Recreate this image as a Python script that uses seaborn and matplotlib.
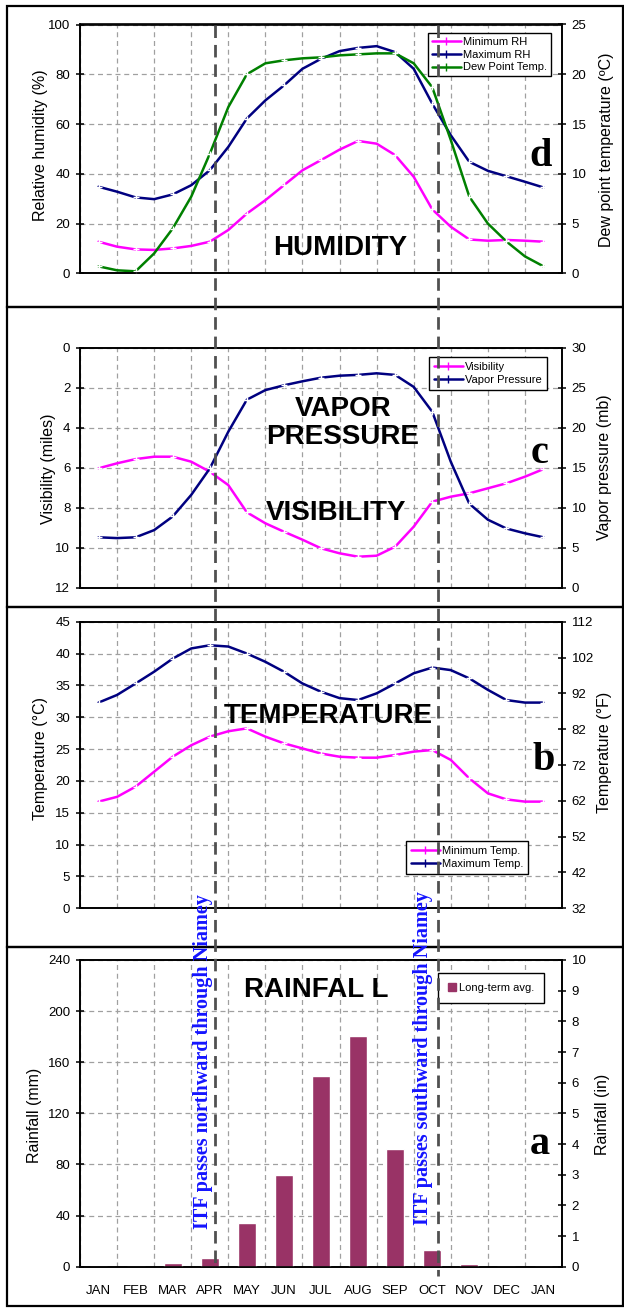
import numpy as np
import pandas as pd
import matplotlib
matplotlib.use("Agg")
import matplotlib.pyplot as plt
import seaborn as sns
from matplotlib.lines import Line2D
from matplotlib.patches import Rectangle, Patch

# ---------------- data ----------------
months = ["JAN", "FEB", "MAR", "APR", "MAY", "JUN", "JUL",
          "AUG", "SEP", "OCT", "NOV", "DEC", "JAN"]
month_pos = list(range(13))
# readings taken at each month and half way between months
read_pos = [0, 0.5, 1, 1.5, 2, 2.5, 3, 3.5, 4, 4.5, 5, 5.5, 6,
            6.5, 7, 7.5, 8, 8.5, 9, 9.5, 10, 10.5, 11, 11.5, 12]

min_rh = [12.7, 10.7, 9.6, 9.4, 10.0, 11.0, 12.7, 17.4, 24.0, 29.4, 35.4, 41.4, 45.5,
          49.7, 53.2, 52.1, 47.5, 38.8, 25.7, 18.7, 13.6, 13.1, 13.4, 13.1, 12.7]
max_rh = [34.8, 32.8, 30.5, 29.8, 31.7, 35.4, 41.4, 50.8, 62.2, 69.5, 75.5, 82.2, 86.2,
          89.3, 90.6, 91.3, 88.9, 82.2, 68.2, 55.5, 44.8, 41.2, 39.0, 36.8, 34.5]
dew_point = [0.7, 0.3, 0.2, 2.0, 4.5, 7.7, 12.0, 16.7, 20.0, 21.1, 21.4, 21.6, 21.7,
             21.9, 22.0, 22.1, 22.1, 21.1, 18.7, 13.4, 7.7, 5.0, 3.2, 1.7, 0.7]

visibility = [6.03, 5.78, 5.57, 5.45, 5.45, 5.70, 6.20, 6.87, 8.23, 8.78, 9.20, 9.60, 10.03,
              10.28, 10.45, 10.40, 9.95, 8.95, 7.70, 7.45, 7.28, 7.03, 6.78, 6.45, 6.07]
vapor_pressure = [6.3, 6.2, 6.3, 7.2, 8.9, 11.6, 14.9, 19.5, 23.5, 24.7, 25.3, 25.8, 26.25,
                  26.5, 26.6, 26.8, 26.6, 25.1, 22.0, 15.75, 10.5, 8.5, 7.4, 6.8, 6.3]

max_temp = [32.3, 33.5, 35.3, 37.15, 39.2, 40.8, 41.3, 41.1, 40.0, 38.7, 37.15, 35.3, 34.0,
            33.0, 32.7, 33.75, 35.3, 36.9, 37.8, 37.4, 36.1, 34.3, 32.7, 32.3, 32.3]
min_temp = [16.75, 17.5, 19.1, 21.45, 23.8, 25.6, 26.95, 27.8, 28.25, 26.95, 25.9, 25.1, 24.3,
            23.8, 23.65, 23.65, 24.07, 24.6, 24.85, 23.3, 20.4, 18.05, 17.1, 16.75, 16.75]

rain_mm = [0, 0, 3.0, 6.5, 34.5, 72, 149.5, 180.5, 92, 13, 1.8, 0, 0]

itf_north_pos = 3.14
itf_south_pos = 9.16

# ---------------- style ----------------
sns.set_style("white")
plt.rcParams["font.family"] = ["Liberation Sans Narrow", "Liberation Sans", "DejaVu Sans"]
for k in ("text.color", "axes.labelcolor", "xtick.color", "ytick.color", "axes.edgecolor"):
    plt.rcParams[k] = "black"

MAGENTA = "#ff00ff"
NAVY = "#000080"
GREEN = "#008000"
BAR = "#993366"
GRID = "#a0a0a0"

W, H = 624, 1308
fig = plt.figure(figsize=(W / 100, H / 100), dpi=100)
X0, X1 = 80, 562


def rect(ytop, ybot):
    return [X0 / W, 1 - ybot / H, (X1 - X0) / W, (ybot - ytop) / H]


def fx(px):
    return px / W


def fy(py):
    return 1 - py / H


def style(ax, axr, show_months=False):
    ax.set_xlim(-0.5, 12.5)
    ax.set_xticks(np.arange(-0.5, 13, 1))
    ax.set_xticklabels([])
    ax.set_xticks(month_pos, minor=True)
    if show_months:
        ax.set_xticklabels(months, minor=True)
    else:
        ax.set_xticklabels([], minor=True)
    ax.tick_params(axis="x", which="minor", length=0, pad=13, labelsize=9.5, colors="black")
    ax.tick_params(axis="x", which="major", direction="inout", length=6, width=1.1, colors="black")
    ax.tick_params(axis="y", direction="inout", length=6, width=1.1, labelsize=9.5, pad=4,
                   colors="black")
    axr.tick_params(axis="y", direction="inout", length=6, width=1.1, labelsize=9.5, pad=4,
                    colors="black")
    ax.grid(True, which="major", color=GRID, linestyle=(0, (4, 3)), linewidth=0.9)
    axr.grid(False)
    for a in (ax, axr):
        for s in a.spines.values():
            s.set_color("black")
            s.set_linewidth(1.2)
    ax.set_xlabel("")
    ax.set_ylabel("")
    axr.set_ylabel("")


def legend(axr, handles, labels, x, y, fs=7.5, pad=0.35, hl=2.6, htp=0.2):
    leg = axr.legend(handles, labels, loc="upper left",
                     bbox_to_anchor=(fx(x), fy(y)), bbox_transform=fig.transFigure,
                     frameon=True, fancybox=False, framealpha=1, edgecolor="black",
                     fontsize=fs, handlelength=hl, borderpad=pad, labelspacing=0.25,
                     handletextpad=htp, borderaxespad=0)
    leg.get_frame().set_linewidth(1.0)
    leg.set_zorder(20)
    for t in leg.get_texts():
        t.set_color("black")
    return leg


line_kw = dict(linewidth=1.8, marker="+", markersize=4, markeredgewidth=1, markevery=2)

# ---------------- panel d: humidity ----------------
df_d = pd.DataFrame({"pos": read_pos, "min_rh": min_rh, "max_rh": max_rh, "dew": dew_point})
axd = fig.add_axes(rect(24.5, 273.3))
axdr = axd.twinx()
sns.lineplot(data=df_d, x="pos", y="min_rh", ax=axd, color=MAGENTA, **line_kw)
sns.lineplot(data=df_d, x="pos", y="max_rh", ax=axd, color=NAVY, **line_kw)
sns.lineplot(data=df_d, x="pos", y="dew", ax=axdr, color=GREEN, **line_kw)
axd.set_ylim(0, 100)
axd.set_yticks(range(0, 101, 20))
axdr.set_ylim(0, 25)
axdr.set_yticks(range(0, 26, 5))
style(axd, axdr)
h = [Line2D([], [], color=c, lw=1.8, marker="|", markersize=6) for c in (MAGENTA, NAVY, GREEN)]
legend(axdr, h, ["Minimum RH", "Maximum RH", "Dew Point Temp."], 428, 33, fs=8)

# ---------------- panel c: vapor pressure / visibility ----------------
df_c = pd.DataFrame({"pos": read_pos, "vis": visibility, "vp": vapor_pressure})
axc = fig.add_axes(rect(347.7, 587.7))
axcr = axc.twinx()
sns.lineplot(data=df_c, x="pos", y="vis", ax=axc, color=MAGENTA, **line_kw)
sns.lineplot(data=df_c, x="pos", y="vp", ax=axcr, color=NAVY, **line_kw)
axc.set_ylim(12, 0)
axc.set_yticks(range(0, 13, 2))
axcr.set_ylim(0, 30)
axcr.set_yticks(range(0, 31, 5))
style(axc, axcr)
h = [Line2D([], [], color=c, lw=1.8, marker="|", markersize=6) for c in (MAGENTA, NAVY)]
legend(axcr, h, ["Visibility", "Vapor Pressure"], 429, 357, fs=8, pad=0.45)

# ---------------- panel b: temperature ----------------
df_b = pd.DataFrame({"pos": read_pos, "tmin": min_temp, "tmax": max_temp})
axb = fig.add_axes(rect(621.7, 908.3))
axbr = axb.twinx()
sns.lineplot(data=df_b, x="pos", y="tmax", ax=axb, color=NAVY, **line_kw)
sns.lineplot(data=df_b, x="pos", y="tmin", ax=axb, color=MAGENTA, **line_kw)
axb.set_ylim(0, 45)
axb.set_yticks(range(0, 46, 5))
axbr.set_ylim(32, 112)
axbr.set_yticks(range(32, 113, 10))
style(axb, axbr)
h = [Line2D([], [], color=c, lw=1.8, marker="|", markersize=6) for c in (MAGENTA, NAVY)]
legend(axbr, h, ["Minimum Temp.", "Maximum Temp."], 406, 841, fs=8, pad=0.45)

# ---------------- panel a: rainfall ----------------
df_a = pd.DataFrame({"pos": month_pos, "rain": rain_mm})
axa = fig.add_axes(rect(960, 1266.7))
axar = axa.twinx()
sns.barplot(data=df_a, x="pos", y="rain", ax=axa, native_scale=True, width=0.48,
            color=BAR, saturation=1, errorbar=None, zorder=3)
axa.set_ylim(0, 240)
axa.set_yticks(range(0, 241, 40))
axar.set_ylim(0, 10)
axar.set_yticks(range(0, 11, 1))
style(axa, axar, show_months=True)
leg = legend(axar, [Patch(facecolor=BAR, edgecolor=BAR)], ["Long-term avg."], 438, 973,
             fs=8, pad=0.9, hl=0.7, htp=0.3)

# ---------------- axis labels ----------------
lab_kw = dict(rotation=90, ha="center", va="center", fontsize=11.5, color="black")
fig.text(fx(41), fy(145), "Relative humidity (%)", **lab_kw)
fig.text(fx(607), fy(150), "Dew point temperature (ºC)", **lab_kw)
fig.text(fx(48), fy(469), "Visibility (miles)", **lab_kw)
fig.text(fx(605), fy(467), "Vapor pressure (mb)", **lab_kw)
fig.text(fx(40), fy(759), "Temperature (°C)", **lab_kw)
fig.text(fx(605), fy(752), "Temperature (°F)", **lab_kw)
fig.text(fx(34), fy(1115), "Rainfall (mm)", **lab_kw)
fig.text(fx(603), fy(1114), "Rainfall (in)", **lab_kw)

# ---------------- big titles ----------------
big = dict(ha="center", va="center", fontsize=20, fontweight="bold", color="black",
           family=["Liberation Sans", "DejaVu Sans"], zorder=15)
fig.text(fx(340), fy(248), "HUMIDITY", **big)
fig.text(fx(343), fy(423), "VAPOR\nPRESSURE", linespacing=1.05, **big)
fig.text(fx(336), fy(513), "VISIBILITY", **big)
fig.text(fx(328), fy(716), "TEMPERATURE", **big)
fig.text(fx(316), fy(990), "RAINFAL L", **big)

letter = dict(ha="center", va="center", fontsize=29, fontweight="bold", color="black",
              family=["Liberation Serif", "DejaVu Serif"], zorder=15)
fig.text(fx(541), fy(156), "d", **letter)
fig.text(fx(540), fy(454), "c", **letter)
fig.text(fx(544), fy(761), "b", **letter)
fig.text(fx(540), fy(1144), "a", **letter)

# ---------------- ITF dashed lines and notes ----------------
def pos_to_px(p):
    return X0 + (p + 0.5) * (X1 - X0) / 13


for p, yb in ((itf_north_pos, 1268), (itf_south_pos, 1276)):
    xp = fx(pos_to_px(p))
    fig.add_artist(Line2D([xp, xp], [fy(25), fy(yb)], transform=fig.transFigure,
                          color="#505050", linewidth=2, dashes=(4.5, 2.5), zorder=12))

itf = dict(rotation=90, ha="center", va="center", fontsize=14.5, fontweight="bold",
           color="#1414ff", family=["Liberation Serif", "DejaVu Serif"], zorder=16)
fig.text(fx(203), fy(1062), "ITF passes northward through Niamey", **itf)
fig.text(fx(423), fy(1058), "ITF passes southward through Niamey", **itf)

# ---------------- panel frames ----------------
for yt, yb in ((6, 307), (307, 607), (607, 947), (947, 1306)):
    fig.add_artist(Rectangle((fx(7), fy(yb)), fx(623) - fx(7), fy(yt) - fy(yb),
                             transform=fig.transFigure, fill=False,
                             edgecolor="black", linewidth=1.6, zorder=1))

fig.savefig("out.png", dpi=100)
